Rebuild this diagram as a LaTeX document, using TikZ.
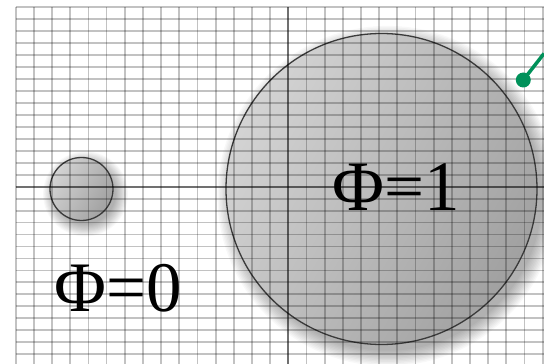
\documentclass[tikz,border=0pt]{standalone}
\usepackage{fontspec}
\setmainfont{Liberation Serif}
\definecolor{GridGray}{HTML}{000000}
\definecolor{EdgeGray}{HTML}{3A3A3A}
\definecolor{DotGreen}{HTML}{00915A}

\begin{document}
\begin{tikzpicture}[x=1pt,y=1pt,
  region/.style={circle,draw=EdgeGray,line width=1.3pt,inner sep=0pt,
    left color=black!17,right color=black!37,shading angle=60},
  softshadow/.style={fill=black,fill opacity=0.028},
  gridline/.style={draw=GridGray,draw opacity=0.24,line width=1.8pt},
  axisline/.style={draw=GridGray,draw opacity=0.42,line width=1.9pt},
  philabel/.style={anchor=base,inner sep=0pt,font=\fontsize{71}{71}\selectfont}]
  \useasboundingbox[fill=white] (-288.3,-177.3) rectangle (255.7,186.7);
  % soft shadows to the lower right
  \foreach \k in {1,...,12} {
    \fill[softshadow] (99.2,-9.3) circle ({155.5+16-1.4*\k});
    \fill[softshadow] (-202.8,-7.3) circle ({31.5+12-1.1*\k});
  }
  \node[region,minimum size=311pt] (big) at (93.2,-2.3) {};
  \node[region,minimum size=63pt] (small) at (-206.8,-2.3) {};
  % grid over the regions
  \foreach \i in {-15,...,14}
    \draw[gridline] ({\i*18.17},-177.3) -- ({\i*18.17},179.4);
  \foreach \j in {-14,...,15}
    \draw[gridline] (-272.55,{\j*11.96}) -- (255.7,{\j*11.96});
  \draw[axisline] (0,-177.3) -- (0,179.4);
  \draw[axisline] (-272.55,0) -- (255.7,0);
  \node[philabel] (phione) at (108.4,-24.3) {Φ=1};
  \node[philabel] (phizero) at (-170.1,-125.3) {Φ=0};
  \node[circle,fill=DotGreen,inner sep=0pt,minimum size=15pt] (dot) at (235,106.7) {};
  \coordinate (edge) at (255.7,133.2);
  \draw[DotGreen,line width=3.5pt] (dot.center) -- (edge);
\end{tikzpicture}
\end{document}
